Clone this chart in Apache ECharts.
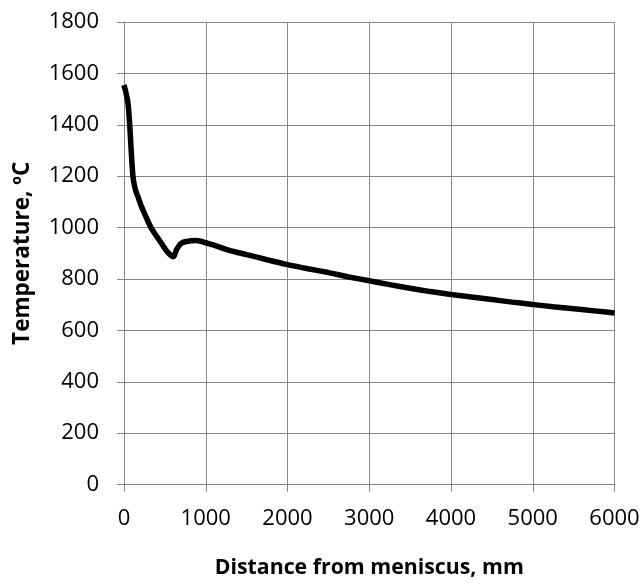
<!DOCTYPE html>
<html><head><meta charset="utf-8">
<script src="https://cdn.jsdelivr.net/npm/echarts@6/dist/echarts.min.js"></script>
<style>html,body{margin:0;padding:0;background:#fff}#c{width:643px;height:585px}</style>
</head><body><div id="c"></div>
<script>
var distance = [0,20,49,70,90,110,131,150,171,200,233,280,335,400,458,520,570,600,615,641,670,702,750,825,885,950,1000,1100,1250,1400,1500,1750,2000,2250,2500,2750,3000,3250,3500,3750,4000,4250,4500,4750,5000,5250,5500,5750,6000];
var temperature = [1555,1530,1484,1399,1289,1198,1159,1137,1120,1093,1068,1034,997,966,939,910,893,887,890,913,928,939,945,949,950,946,941,932,915,902,895,875,856,840,825,808,793,778,764,751,740,730,720,710,701,692,684,676,668];
var xTicks = [0,1000,2000,3000,4000,5000,6000];
var yTicks = [0,200,400,600,800,1000,1200,1400,1600,1800];

var data = distance.map(function(d,i){return [d, temperature[i]];});
var chart = echarts.init(document.getElementById('c'), null, {renderer:'canvas'});
var font = 'Open Sans';
chart.setOption({
  animation:false,
  backgroundColor:'#fff',
  grid:{left:124,right:28.5,top:22,bottom:100.4,containLabel:false},
  xAxis:{
    type:'value', min:xTicks[0], max:xTicks[xTicks.length-1], interval:1000,
    name:'Distance from meniscus, mm', nameLocation:'middle', nameGap:73,
    nameTextStyle:{fontFamily:font,fontWeight:'bold',fontSize:21.3,color:'#000'},
    axisLine:{show:true,lineStyle:{color:'#868686',width:1}},
    axisTick:{show:true,inside:false,length:7,lineStyle:{color:'#868686'}},
    axisLabel:{fontFamily:font,fontSize:22,color:'#000',margin:23,formatter:function(v){return String(v);}},
    splitLine:{show:true,lineStyle:{color:'#868686',width:1}}
  },
  yAxis:{
    type:'value', min:yTicks[0], max:yTicks[yTicks.length-1], interval:200,
    name:'Temperature, \u00baC', nameLocation:'middle', nameGap:90,
    nameTextStyle:{fontFamily:font,fontWeight:'bold',fontSize:22.5,color:'#000'},
    axisLine:{show:true,lineStyle:{color:'#868686',width:1}},
    axisTick:{show:true,inside:false,length:7,lineStyle:{color:'#868686'}},
    axisLabel:{fontFamily:font,fontSize:22,color:'#000',margin:25,formatter:function(v){return String(v);}},
    splitLine:{show:true,lineStyle:{color:'#868686',width:1}}
  },
  series:[{
    type:'line', data:data, showSymbol:false, smooth:0.2,
    lineStyle:{color:'#000',width:5.5}, itemStyle:{color:'#000'}
  }]
});
</script></body></html>
